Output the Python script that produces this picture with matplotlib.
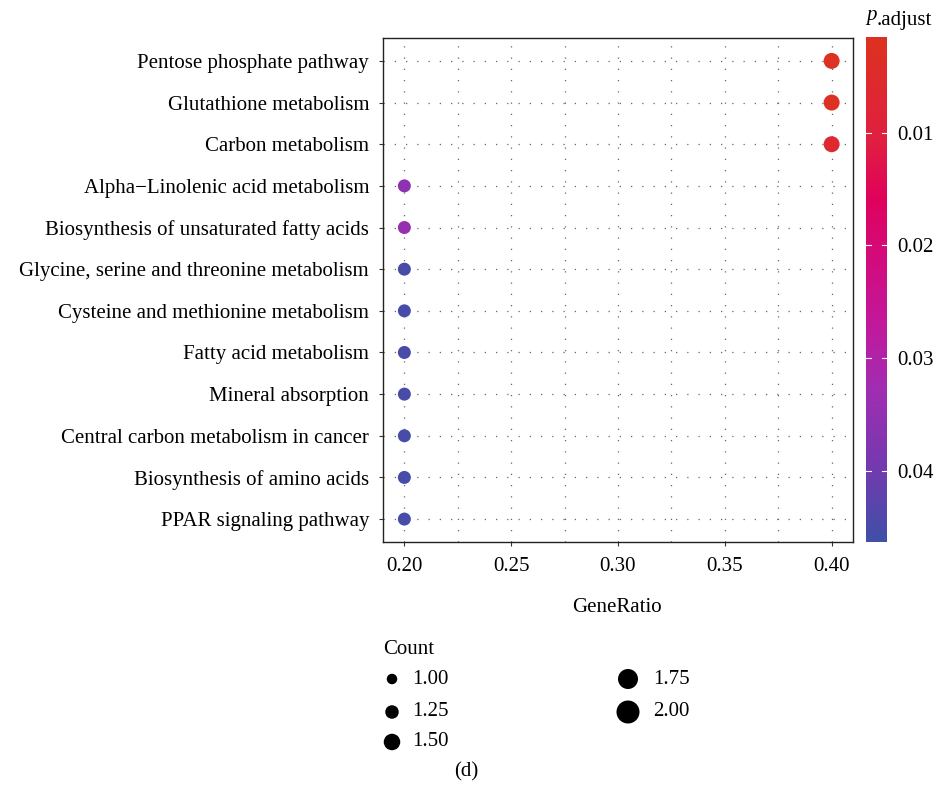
import numpy as np
import matplotlib
matplotlib.use("Agg")
import matplotlib.pyplot as plt
from matplotlib.colors import LinearSegmentedColormap, Normalize

plt.rcParams["font.family"] = ["Liberation Serif", "DejaVu Serif"]

pathways = [
    "Pentose phosphate pathway",
    "Glutathione metabolism",
    "Carbon metabolism",
    "Alpha\u2212Linolenic acid metabolism",
    "Biosynthesis of unsaturated fatty acids",
    "Glycine, serine and threonine metabolism",
    "Cysteine and methionine metabolism",
    "Fatty acid metabolism",
    "Mineral absorption",
    "Central carbon metabolism in cancer",
    "Biosynthesis of amino acids",
    "PPAR signaling pathway",
]
gene_ratio = [0.4, 0.4, 0.4, 0.2, 0.2, 0.2, 0.2, 0.2, 0.2, 0.2, 0.2, 0.2]
counts = [2, 2, 2, 1, 1, 1, 1, 1, 1, 1, 1, 1]
p_adjust = [0.0020, 0.0022, 0.0062, 0.0355, 0.0345, 0.0452, 0.0452,
            0.0452, 0.0452, 0.0452, 0.0452, 0.0452]

legend_counts = [1.00, 1.25, 1.50, 1.75, 2.00]
x_ticks = [0.20, 0.25, 0.30, 0.35, 0.40]
cbar_ticks = [0.01, 0.02, 0.03, 0.04]

p_min, p_max = 0.0015, 0.0463
cmap = LinearSegmentedColormap.from_list("padj", [
    (0.00, "#dd3220"),
    (0.20, "#e02040"),
    (0.32, "#e0025c"),
    (0.45, "#d20c80"),
    (0.58, "#c01a9e"),
    (0.70, "#a02eb2"),
    (0.84, "#7838b0"),
    (1.00, "#4050a8"),
])
norm = Normalize(vmin=p_min, vmax=p_max)

FS = 15
W, H = 939, 795
fig = plt.figure(figsize=(W / 100, H / 100), dpi=100)

ax = fig.add_axes([383 / W, 1 - 542 / H, 470 / W, 504 / H])
ypos = np.arange(len(pathways))[::-1]


def dot_size(c):
    # diameter in px for Count 1 -> 13, 2 -> 16
    d = 13 + (np.asarray(c) - 1) * 3
    return (d * 72 / 100) ** 2


ax.scatter(gene_ratio, ypos, s=dot_size(counts), c=p_adjust, cmap=cmap,
           norm=norm, edgecolors="none", zorder=3)

ax.set_xlim(0.19, 0.41)
ax.set_ylim(-0.55, len(pathways) - 0.45)
ax.set_xticks(x_ticks)
ax.set_xticklabels([f"{t:.2f}" for t in x_ticks])
ax.set_xticks([0.225, 0.275, 0.325, 0.375], minor=True)
ax.set_yticks(ypos)
ax.set_yticklabels(pathways)
ax.tick_params(axis="both", which="major", labelsize=FS, length=3,
               width=0.8, color="#333333")
ax.tick_params(axis="y", pad=7)
ax.tick_params(axis="x", pad=8)
ax.tick_params(axis="x", which="minor", length=0)
dots = dict(color="#666666", linestyle=(0, (1, 8)), linewidth=0.9)
ax.grid(True, axis="x", which="both", **dots)
ax.grid(True, axis="y", which="major", **dots)
ax.set_axisbelow(True)
for sp in ax.spines.values():
    sp.set_linewidth(1.0)
    sp.set_color("#222222")

# colour bar
cax = fig.add_axes([866 / W, 1 - 541.7 / H, 21 / W, 505 / H])
grad = np.linspace(p_min, p_max, 256).reshape(-1, 1)
cax.imshow(grad, aspect="auto", cmap=cmap, norm=norm,
           extent=[0, 1, p_max, p_min])
cax.set_ylim(p_max, p_min)
cax.set_xlim(0, 1)
cax.set_xticks([])
cax.yaxis.tick_right()
cax.set_yticks(cbar_ticks)
cax.set_yticklabels([f"{t:.2f}" for t in cbar_ticks])
cax.tick_params(axis="y", length=0, labelsize=FS, pad=7.5)
for t in cbar_ticks:
    cax.plot([0, 0.22], [t, t], color="white", lw=0.8)
    cax.plot([0.78, 1], [t, t], color="white", lw=0.8)
for sp in cax.spines.values():
    sp.set_visible(False)

# overlay in pixel coordinates for titles and size legend
ov = fig.add_axes([0, 0, 1, 1])
ov.set_xlim(0, W)
ov.set_ylim(H, 0)
ov.axis("off")
p_txt = ov.text(866, 20, "p", fontsize=FS, style="italic", ha="left",
                va="baseline")
ov.annotate(".adjust", xy=(1, 0), xycoords=p_txt, fontsize=FS,
            ha="left", va="baseline")
ov.text(617, 607, "GeneRatio", fontsize=FS, ha="center", va="center")
ov.text(383, 650, "Count", fontsize=FS, ha="left", va="center")

legend_x = [392, 392, 392, 628, 628]
legend_lx = [412, 412, 412, 653, 653]
legend_y = [679, 712, 742, 679, 712]
legend_d = [10.5, 13.5, 16.5, 20, 23]
for c, x, lx, y, d in zip(legend_counts, legend_x, legend_lx, legend_y, legend_d):
    ov.scatter([x], [y], s=(d * 72 / 100) ** 2, color="black", edgecolors="none")
    ov.text(lx, y, f"{c:.2f}", fontsize=FS, ha="left", va="center")

ov.text(466, 772, "(d)", fontsize=FS, ha="center", va="center")

fig.savefig("out.png", dpi=100)
